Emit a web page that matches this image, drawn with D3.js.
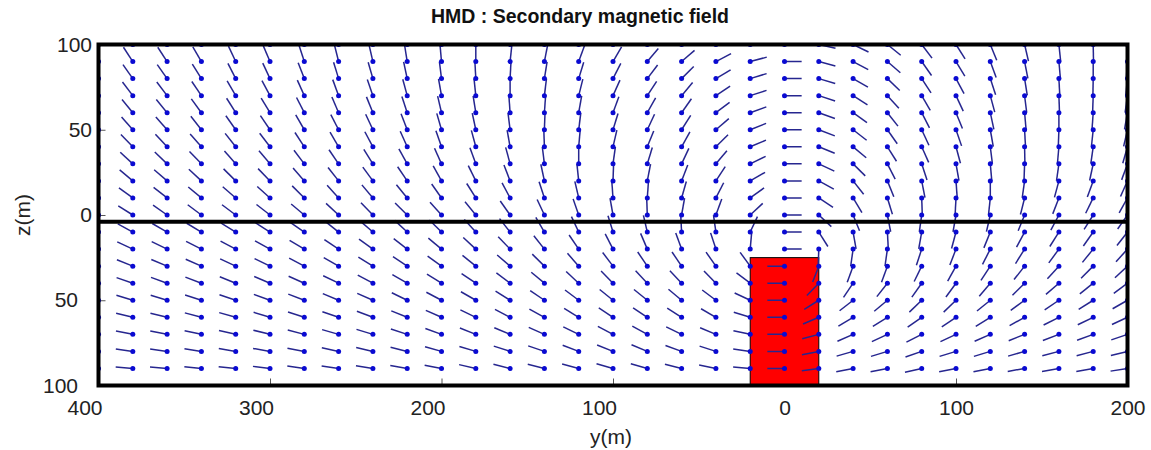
<!DOCTYPE html>
<html><head><meta charset="utf-8">
<script src="https://cdn.jsdelivr.net/npm/d3@7"></script>
<style>body{margin:0;background:#fff} svg{display:block}</style>
</head><body>
<svg id="chart" width="1151" height="450"></svg>
<script>
// ---- data ----
const titleText = "HMD : Secondary magnetic field";
const xLabel = "y(m)";
const yLabel = "z(m)";
const yValues = [-400,-380,-360,-340,-320,-300,-280,-260,-240,-220,-200,-180,-160,-140,-120,-100,-80,-60,-40,-20,0,20,40,60,80,100,120,140,160,180,200];
const zValues = [100,90,80,70,60,50,40,30,20,10,0,-10,-20,-30,-40,-50,-60,-70,-80,-90];
const xTicks = [-400,-300,-200,-100,0,100,200];
const zTicks = [100,50,0,-50,-100];
const bodyY = [-20, 20];
const bodyZ = [-25, -100];
const interfaceZ = -4;
// field direction (degrees, counter-clockwise from +y) per row (z) and column (y)
const angleRows = [
 [121,121,121,118,113,111,106,102,101,97,93,88,82,77,68,58,48,38,26,13,0,347,334,321,307,302,292,283,276,271,268],
 [123,123,123,120,115,113,108,104,103,99,95,90,84,79,70,60,50,41,28,15,0,345,332,319,305,301,290,281,275,270,266],
 [125,125,125,122,117,115,111,107,106,102,97,93,87,81,73,63,53,45,31,17,0,343,330,316,303,298,288,279,273,269,264],
 [127,127,127,124,120,118,114,110,109,105,100,96,90,83,76,66,57,50,34,18,0,342,327,312,300,295,285,277,272,268,262],
 [129,129,129,126,122,121,117,113,112,108,103,99,94,86,80,70,61,55,37,20,0,340,324,308,297,292,282,275,270,266,260],
 [131,131,131,128,125,124,120,117,115,111,106,102,97,88,83,73,65,58,41,22,0,339,322,305,295,289,280,273,268,264,257],
 [134,134,133,131,128,127,123,120,118,114,109,105,100,92,85,77,68,61,45,23,0,338,320,302,294,285,277,271,265,262,254],
 [137,137,136,134,131,130,127,124,122,119,114,110,105,97,90,82,73,65,50,26,0,335,315,297,288,280,275,268,262,258,250],
 [140,140,139,137,135,134,131,128,126,124,119,116,111,102,96,88,79,69,57,30,0,331,308,292,281,274,270,262,255,250,246],
 [144,144,142,140,139,138,135,132,130,129,125,122,118,108,103,94,86,74,63,36,0,326,301,287,272,267,264,256,249,244,241],
 [148,148,145,143,143,142,140,137,134,135,132,129,125,115,109,100,92,80,70,43,0,317,292,281,262,260,257,248,242,238,235],
 [152,151,150,149,148,147,145,141,139,137,135,132,128,120,115,107,103,93,98,65,0,302,280,273,260,255,248,242,238,235,232],
 [156,155,154,153,152,151,149,146,144,142,140,137,134,128,124,117,113,110,108,85,0,268,262,262,252,249,243,238,234,231,228],
 [159,158,157,156,155,154,152,150,148,146,144,141,139,135,131,127,124,124,125,126,180,249,250,250,244,241,237,232,228,225,223],
 [162,161,160,159,158,157,156,154,152,150,148,146,143,140,137,134,133,133,134,143,180,226,236,232,235,234,230,225,221,219,217],
 [165,163,163,162,161,160,159,157,156,154,152,150,148,146,143,141,141,140,143,155,180,212,218,220,224,224,219,216,214,212,210],
 [168,166,166,165,164,163,162,161,159,158,156,154,152,151,148,146,146,147,150,163,180,203,211,212,215,214,212,209,207,206,205],
 [171,169,169,168,167,166,165,164,163,162,160,158,157,156,154,152,151,154,157,168,180,195,204,205,207,205,204,202,201,200,199],
 [174,172,172,171,170,170,169,168,167,166,164,163,162,161,159,158,157,160,162,172,180,191,196,197,199,197,197,196,195,195,194],
 [177,175,175,174,174,173,172,172,171,170,169,167,166,166,165,164,164,166,168,175,180,188,191,191,193,191,191,190,190,190,189]
];
const arrowLen = 10; // drawn length in data units

// ---- chart ----
const svg = d3.select("#chart");
const x = d3.scaleLinear().domain([-400, 200]).range([98.5, 1127.5]);
const z = d3.scaleLinear().domain([100, -100]).range([44.5, 385.5]);
const font = "'Liberation Sans', Arial, sans-serif";

svg.append("defs").append("clipPath").attr("id", "clip")
  .append("rect").attr("x", x(-400)).attr("y", z(100))
  .attr("width", x(200) - x(-400)).attr("height", z(-100) - z(100));

// title
svg.append("text").attr("x", 580).attr("y", 23).attr("text-anchor", "middle")
  .attr("font-family", font).attr("font-weight", "bold").attr("font-size", 19.5)
  .attr("fill", "#111").text(titleText);

// axes (inward ticks)
const fmt = d => String(Math.abs(d));
const gx = svg.append("g").attr("transform", `translate(0,${z(-100)})`)
  .call(d3.axisBottom(x).tickValues(xTicks).tickSize(-7).tickPadding(14.5).tickFormat(fmt));
const gz = svg.append("g").attr("transform", `translate(${x(-400)},0)`)
  .call(d3.axisLeft(z).tickValues(zTicks).tickSize(-7).tickPadding(6.5).tickFormat(fmt));
[gx, gz].forEach(g => {
  g.select(".domain").remove();
  g.selectAll(".tick line").attr("stroke", "#555").attr("stroke-width", 1);
  g.selectAll(".tick text").attr("font-family", font).attr("font-size", 21).attr("fill", "#222");
});
gx.selectAll(".tick text").attr("dx", d => d < 0 ? -14 : 0);
gz.selectAll(".tick text").attr("dx", d => d < 0 ? -14 : 0);

// axis titles
svg.append("text").attr("x", 611).attr("y", 444).attr("text-anchor", "middle")
  .attr("font-family", font).attr("font-size", 21).attr("fill", "#222").text(xLabel);
svg.append("text").attr("transform", `translate(30,${z(0)}) rotate(-90)`).attr("text-anchor", "middle")
  .attr("font-family", font).attr("font-size", 21).attr("fill", "#222").text(yLabel);

const plot = svg.append("g").attr("clip-path", "url(#clip)");

// conductive body
plot.append("rect")
  .attr("x", x(bodyY[0])).attr("y", z(bodyZ[0]))
  .attr("width", x(bodyY[1]) - x(bodyY[0])).attr("height", z(bodyZ[1]) - z(bodyZ[0]))
  .attr("fill", "#ff0000").attr("stroke", "#000").attr("stroke-width", 1);

// vectors
const vecs = [];
zValues.forEach((zv, i) => yValues.forEach((yv, j) => {
  const a = angleRows[i][j] * Math.PI / 180;
  vecs.push({y: yv, z: zv, y2: yv + arrowLen * Math.cos(a), z2: zv + arrowLen * Math.sin(a)});
}));
plot.append("g").selectAll("line").data(vecs).join("line")
  .attr("x1", d => x(d.y)).attr("y1", d => z(d.z))
  .attr("x2", d => x(d.y2)).attr("y2", d => z(d.z2))
  .attr("stroke", "#26268f").attr("stroke-width", 1.5);
plot.append("g").selectAll("circle").data(vecs).join("circle")
  .attr("cx", d => x(d.y)).attr("cy", d => z(d.z)).attr("r", 2.5)
  .attr("fill", "#0a0ad2");

// air/ground interface
svg.append("line").attr("x1", x(-400)).attr("x2", x(200))
  .attr("y1", z(interfaceZ)).attr("y2", z(interfaceZ))
  .attr("stroke", "#000").attr("stroke-width", 4);

// frame
svg.append("rect").attr("x", x(-400)).attr("y", z(100))
  .attr("width", x(200) - x(-400)).attr("height", z(-100) - z(100))
  .attr("fill", "none").attr("stroke", "#000").attr("stroke-width", 4);
</script>
</body></html>
